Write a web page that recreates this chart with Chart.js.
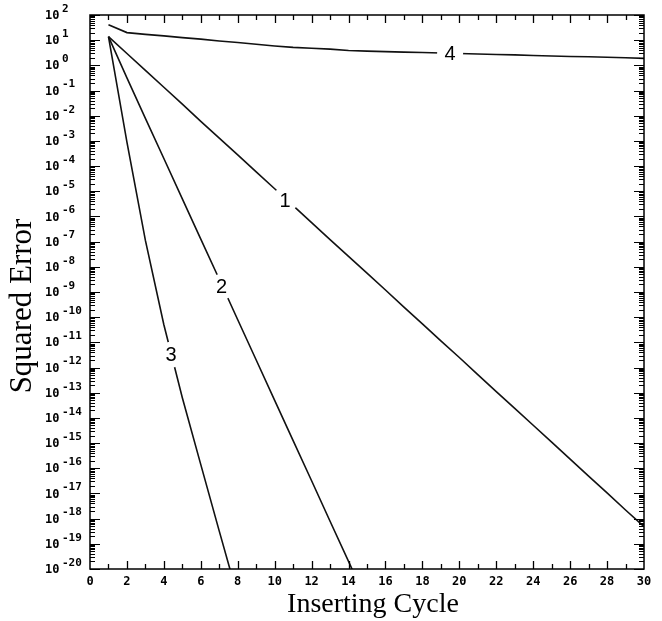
<!DOCTYPE html>
<html>
<head>
<meta charset="utf-8">
<script src="https://cdn.jsdelivr.net/npm/chart.js@4.4.0/dist/chart.umd.min.js"></script>
<style>
  html, body { margin: 0; padding: 0; background: #fff; }
  #wrap { width: 662px; height: 621px; }
</style>
</head>
<body>
<div id="wrap"><canvas id="errChart" width="662" height="621"></canvas></div>
<script>
// Squared error per inserting cycle
const cycles1 = [1,2,3,4,5,6,7,8,9,10,11,12,13,14,15,16,17,18,19,20,21,22,23,24,25,26,27,28,29,30];
const error1 = [13.8, 2.95, 0.63, 0.135, 0.029, 6.0e-3, 1.3e-3, 2.8e-4, 5.9e-5, 1.26e-5,
  2.7e-6, 5.7e-7, 1.2e-7, 2.6e-8, 5.6e-9, 1.2e-9, 2.5e-10, 5.4e-11, 1.15e-11, 2.5e-12,
  5.2e-13, 1.1e-13, 2.4e-14, 5.1e-15, 1.1e-15, 2.3e-16, 4.9e-17, 1.05e-17, 2.2e-18, 4.8e-19];

const cycles2 = [1,2,3,4,5,6,7,8,9,10,11,12,13,14,15];
const error2 = [13.8, 0.32, 7.9e-3, 2.0e-4, 5.0e-6, 1.26e-7, 3.2e-9, 7.9e-11, 2.0e-12,
  5.0e-14, 1.26e-15, 3.2e-17, 7.9e-19, 2.0e-20, 5.0e-22];

const cycles3 = [1,2,3,4,5,6,7,8];
const error3 = [13.8, 8.9e-4, 1.12e-7, 5.0e-11, 6.3e-14, 1.4e-16, 3.2e-19, 7.9e-22];

const cycles4 = [1,2,3,4,5,6,7,8,9,10,11,12,13,14,15,16,17,18,19,20,21,22,23,24,25,26,27,28,29,30];
const error4 = [41, 20, 17, 14.8, 12.6, 11.0, 9.3, 8.1, 6.9, 5.9, 5.2, 4.8, 4.4, 3.9, 3.67,
  3.5, 3.35, 3.24, 3.09, 2.95, 2.82, 2.69, 2.6, 2.48, 2.37, 2.26, 2.19, 2.09, 2.0, 1.9];

// curve labels sitting on the lines
const curveNames = ['1', '2', '3', '4'];
const labelX = [10.56, 7.13, 4.39, 19.5];
const labelY = [4.5e-6, 1.6e-9, 3.2e-12, 3.0];

// axis ticks
const xTickLabels = [0, 2, 4, 6, 8, 10, 12, 14, 16, 18, 20, 22, 24, 26, 28, 30];
const yTickExps = [2, 1, 0, -1, -2, -3, -4, -5, -6, -7, -8, -9, -10, -11, -12, -13, -14, -15, -16, -17, -18, -19, -20];

const xTitle = 'Inserting Cycle';
const yTitle = 'Squared Error';

function toPoints(xs, ys) {
    return xs.map((x, i) => ({ x: x, y: ys[i] }));
}

const lineStyle = {
    borderColor: '#111',
    borderWidth: 1.6,
    pointRadius: 0,
    tension: 0,
    fill: false
};

// labels, frame, inward ticks and axis text
const paperPlugin = {
    id: 'paper',
    afterDatasetsDraw(chart) {
        const c = chart.ctx;
        const xs = chart.scales.x, ys = chart.scales.y;
        c.save();
        c.font = '20px "Liberation Sans", Arial, sans-serif';
        c.textAlign = 'center';
        c.textBaseline = 'middle';
        curveNames.forEach((name, i) => {
            const px = xs.getPixelForValue(labelX[i]);
            const py = ys.getPixelForValue(labelY[i]);
            c.fillStyle = '#fff';
            c.beginPath();
            c.arc(px, py, 13, 0, Math.PI * 2);
            c.fill();
            c.fillStyle = '#000';
            c.fillText(name, px, py + 1);
        });
        c.restore();
    },
    afterDraw(chart) {
        const c = chart.ctx;
        const a = chart.chartArea;
        const xs = chart.scales.x, ys = chart.scales.y;
        c.save();
        c.strokeStyle = '#000';
        c.lineWidth = 1.5;
        c.strokeRect(a.left, a.top, a.right - a.left, a.bottom - a.top);

        // x ticks, bottom and top, pointing inward
        c.lineWidth = 1.3;
        for (let v = 1; v < 30; v++) {
            const px = Math.round(xs.getPixelForValue(v)) + 0.5;
            const len = v % 2 === 0 ? 8 : 5;
            c.beginPath();
            c.moveTo(px, a.bottom); c.lineTo(px, a.bottom - len);
            c.moveTo(px, a.top); c.lineTo(px, a.top + len);
            c.stroke();
        }

        // y ticks, left and right, decades plus 2..9 minors
        c.lineWidth = 1;
        yTickExps.forEach(e => {
            for (let m = 1; m <= 9; m++) {
                if (e === 2 && m > 1) break;
                const py = Math.round(ys.getPixelForValue(m * Math.pow(10, e))) + 0.5;
                const len = m === 1 ? 10 : 5;
                c.beginPath();
                c.moveTo(a.left, py); c.lineTo(a.left + len, py);
                c.moveTo(a.right, py); c.lineTo(a.right - len, py);
                c.stroke();
            }
        });

        // x tick labels
        c.fillStyle = '#000';
        c.font = 'bold 12px "DejaVu Sans Mono", monospace';
        c.textAlign = 'center';
        c.textBaseline = 'top';
        xTickLabels.forEach(v => {
            c.fillText(String(v), xs.getPixelForValue(v), a.bottom + 7);
        });

        // y tick labels 10^n
        yTickExps.forEach(e => {
            const py = ys.getPixelForValue(Math.pow(10, e));
            c.textAlign = 'left';
            c.textBaseline = 'middle';
            c.font = 'bold 12px "DejaVu Sans Mono", monospace';
            c.fillText('10', 45, py + 1);
            c.font = 'bold 11px "DejaVu Sans Mono", monospace';
            c.fillText(String(e), 62, py - 6);
        });

        // axis titles
        c.font = '28px "Liberation Serif", "Times New Roman", serif';
        c.textAlign = 'center';
        c.textBaseline = 'alphabetic';
        c.fillText(xTitle, 373, 612);
        c.font = '31px "Liberation Serif", "Times New Roman", serif';
        c.translate(31, 306);
        c.rotate(-Math.PI / 2);
        c.fillText(yTitle, 0, 0);
        c.restore();
    }
};

const ctx = document.getElementById('errChart').getContext('2d');
const errChart = new Chart(ctx, {
    type: 'line',
    data: {
        datasets: [
            Object.assign({ label: '1', data: toPoints(cycles1, error1) }, lineStyle),
            Object.assign({ label: '2', data: toPoints(cycles2, error2) }, lineStyle),
            Object.assign({ label: '3', data: toPoints(cycles3, error3) }, lineStyle),
            Object.assign({ label: '4', data: toPoints(cycles4, error4) }, lineStyle)
        ]
    },
    options: {
        responsive: false,
        animation: false,
        layout: { padding: { left: 90, right: 18, top: 15, bottom: 52 } },
        plugins: {
            legend: { display: false },
            tooltip: { enabled: false }
        },
        scales: {
            x: {
                type: 'linear', min: 0, max: 30,
                grid: { display: false }, border: { display: false },
                ticks: { display: false },
                afterFit: s => { s.height = 0; }
            },
            y: {
                type: 'logarithmic', min: 1e-20, max: 1e2,
                grid: { display: false }, border: { display: false },
                ticks: { display: false },
                afterFit: s => { s.width = 0; }
            }
        }
    },
    plugins: [paperPlugin]
});
</script>
</body>
</html>
